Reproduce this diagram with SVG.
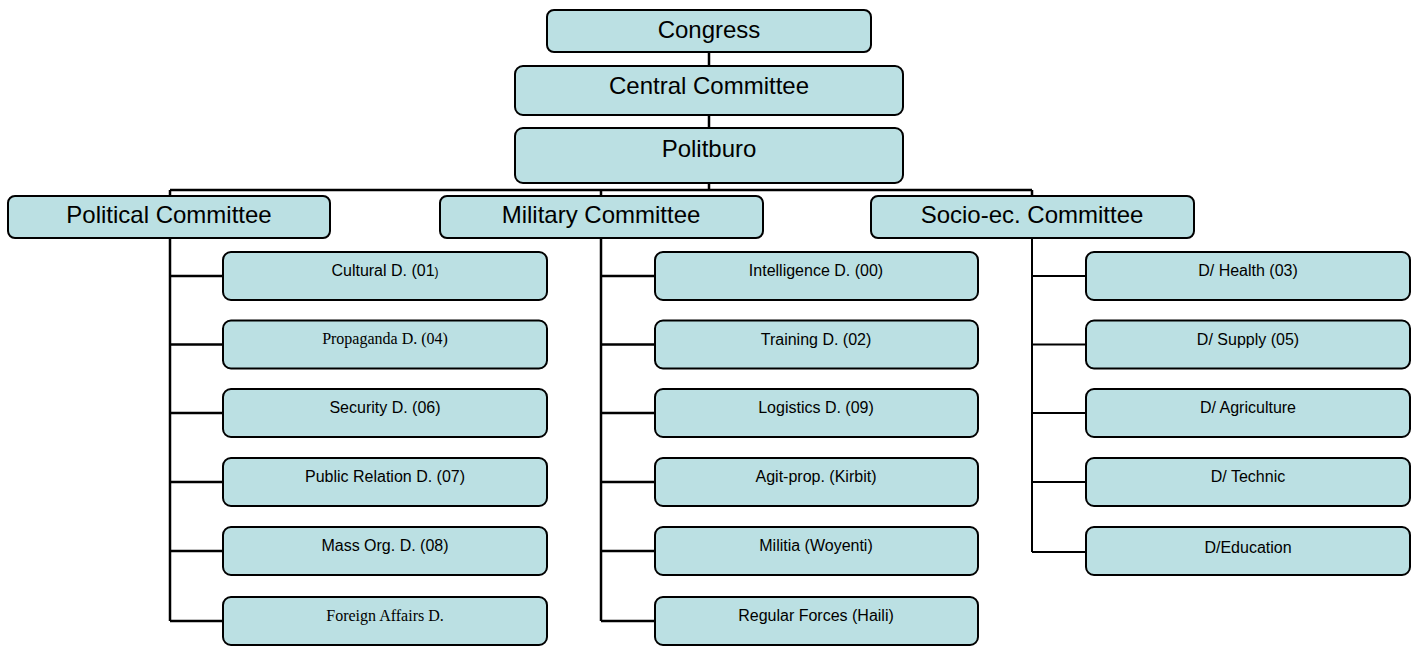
<svg xmlns="http://www.w3.org/2000/svg" width="1417" height="646" viewBox="0 0 1417 646">
<style>
.box{fill:#bbe0e3;stroke:#000;stroke-width:2}
.big{font-family:"Liberation Sans",Arial,sans-serif;font-size:24px;fill:#000;text-anchor:middle}
.sm{font-family:"Liberation Sans",Arial,sans-serif;font-size:16px;fill:#000;text-anchor:middle}
.ser{font-family:"Liberation Serif","Times New Roman",serif;font-size:16px;fill:#000;text-anchor:middle}
.ln{fill:none;stroke:#000;stroke-width:2.5}
.ln2{fill:none;stroke:#000;stroke-width:2}
</style>
<rect width="1417" height="646" fill="#fff"/>
<g id="connectors">
<path class="ln" d="M709 52V66M709 115V128M709 183V190M170 190H1032M170 190V197M601 190V197M1032 190V197"/>
<path class="ln" d="M170 238V621M170 276H223M170 344.5H223M170 413H223M170 482H223M170 551H223M170 621H223"/>
<path class="ln" d="M601 238V621M601 276H655M601 344.5H655M601 413H655M601 482H655M601 551H655M601 621H655"/>
<path class="ln2" d="M1032 238V552M1032 276H1086M1032 344.5H1086M1032 413H1086M1032 482H1086M1032 552H1086"/>
</g>
<g id="congress"><rect class="box" x="547" y="10" width="324" height="42" rx="7"/><text class="big" x="709" y="38">Congress</text></g>
<g id="central"><rect class="box" x="515" y="66" width="388" height="49" rx="8"/><text class="big" x="709" y="94">Central Committee</text></g>
<g id="politburo"><rect class="box" x="515" y="128" width="388" height="55" rx="8"/><text class="big" x="709" y="157">Politburo</text></g>
<g id="political"><rect class="box" x="8" y="196" width="322" height="42" rx="7"/><text class="big" x="169" y="223">Political Committee</text></g>
<g id="military"><rect class="box" x="440" y="196" width="323" height="42" rx="7"/><text class="big" x="601" y="223">Military Committee</text></g>
<g id="socio"><rect class="box" x="871" y="196" width="323" height="42" rx="7"/><text class="big" x="1032" y="223">Socio-ec. Committee</text></g>
<g id="cultural"><rect class="box" x="223" y="252" width="324" height="48" rx="8"/><text class="sm" x="385" y="276">Cultural D. (01<tspan font-size="12">)</tspan></text></g>
<g id="propaganda"><rect class="box" x="223" y="320.5" width="324" height="48" rx="8"/><text class="ser" x="385" y="344">Propaganda D. (04)</text></g>
<g id="security"><rect class="box" x="223" y="389" width="324" height="48" rx="8"/><text class="sm" x="385" y="413">Security D. (06)</text></g>
<g id="publicrel"><rect class="box" x="223" y="458" width="324" height="48" rx="8"/><text class="sm" x="385" y="482">Public Relation D. (07)</text></g>
<g id="massorg"><rect class="box" x="223" y="527" width="324" height="48" rx="8"/><text class="sm" x="385" y="551">Mass Org. D. (08)</text></g>
<g id="foreign"><rect class="box" x="223" y="597" width="324" height="48" rx="8"/><text class="ser" x="385" y="621">Foreign Affairs D.</text></g>
<g id="intelligence"><rect class="box" x="655" y="252" width="323" height="48" rx="8"/><text class="sm" x="816" y="276">Intelligence D. (00)</text></g>
<g id="training"><rect class="box" x="655" y="320.5" width="323" height="48" rx="8"/><text class="sm" x="816" y="344.5">Training D. (02)</text></g>
<g id="logistics"><rect class="box" x="655" y="389" width="323" height="48" rx="8"/><text class="sm" x="816" y="413">Logistics D. (09)</text></g>
<g id="agitprop"><rect class="box" x="655" y="458" width="323" height="48" rx="8"/><text class="sm" x="816" y="482">Agit-prop. (Kirbit)</text></g>
<g id="militia"><rect class="box" x="655" y="527" width="323" height="48" rx="8"/><text class="sm" x="816" y="551">Militia (Woyenti)</text></g>
<g id="regular"><rect class="box" x="655" y="597" width="323" height="48" rx="8"/><text class="sm" x="816" y="621">Regular Forces (Haili)</text></g>
<g id="health"><rect class="box" x="1086" y="252" width="324" height="48" rx="8"/><text class="sm" x="1248" y="276">D/ Health (03)</text></g>
<g id="supply"><rect class="box" x="1086" y="320.5" width="324" height="48" rx="8"/><text class="sm" x="1248" y="344.5">D/ Supply (05)</text></g>
<g id="agriculture"><rect class="box" x="1086" y="389" width="324" height="48" rx="8"/><text class="sm" x="1248" y="413">D/ Agriculture</text></g>
<g id="technic"><rect class="box" x="1086" y="458" width="324" height="48" rx="8"/><text class="sm" x="1248" y="482">D/ Technic</text></g>
<g id="education"><rect class="box" x="1086" y="527" width="324" height="48" rx="8"/><text class="sm" x="1248" y="553">D/Education</text></g>
</svg>
